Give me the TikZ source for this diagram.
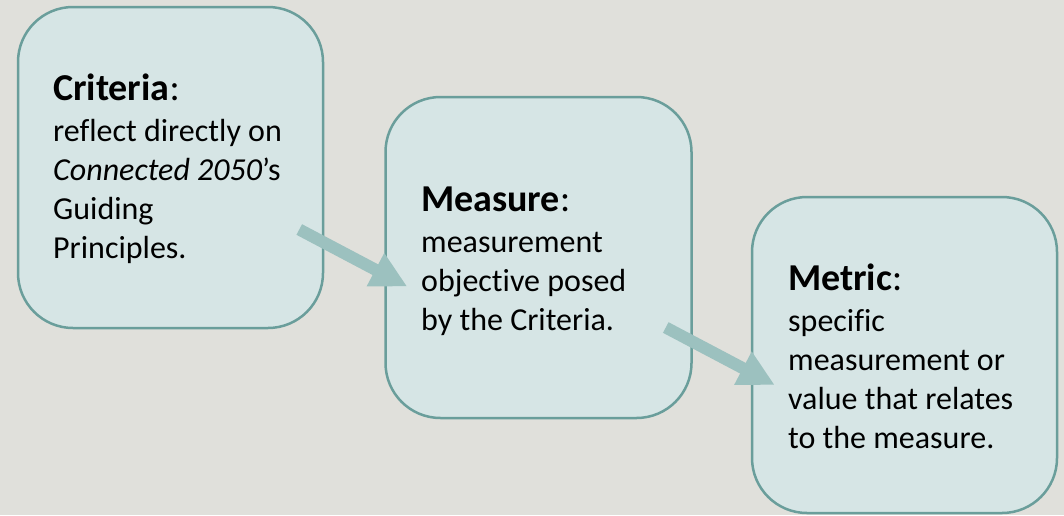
\documentclass[tikz,border=0pt]{standalone}
\usepackage{fontspec}
\setmainfont{Carlito}[Ligatures=NoCommon]
\usetikzlibrary{arrows.meta,calc}
\definecolor{bgColor}{HTML}{E0E0DB}
\definecolor{boxFill}{HTML}{D6E5E5}
\definecolor{boxLine}{HTML}{6A9E9B}
\definecolor{flowColor}{HTML}{9CC1BF}
\tikzset{
	stage box/.style={draw=boxLine, fill=boxFill, line width=2.5pt, rounded corners=55pt, inner sep=0pt},
	stage text/.style={anchor=base west, align=left, inner sep=0pt, text=black,
		font=\fontsize{32}{39}\selectfont},
	flow/.style={draw=flowColor, line width=12pt, -{Triangle[length=36pt,width=35pt]}}
}
\newcommand{\stagehead}[1]{{\fontsize{38}{39}\selectfont\textbf{#1}:}\\[2pt]}

\begin{document}
\begin{tikzpicture}[x=1pt,y=-1pt]
	\fill[bgColor] (0,0) rectangle (1064,515);
	\useasboundingbox (0,0) rectangle (1064,515);
	\node[stage box, minimum width=305pt, minimum height=321pt] at (170.5,167.5) (crit) {};
	\node[stage box, minimum width=306pt, minimum height=321pt] at (538.5,257.5) (meas) {};
	\node[stage box, minimum width=305pt, minimum height=316pt] at (904.5,355) (metr) {};
	% texts are placed by the baseline of their last line
	\node[stage text] at (53,258) (crit text) {\stagehead{Criteria}reflect directly on\\\textit{Connected 2050}’s\\Guiding\\Principles.};
	\node[stage text] at (421,330) (meas text) {\stagehead{Measure}measurement\\objective posed\\by the Criteria.};
	\node[stage text] at (788,448) (metr text) {\stagehead{Metric}specific\\measurement or\\value that relates\\to the measure.};
	% arrows run from inside one box onto the next
	\path ($(crit.east)+(-25,62)$) coordinate (crit out);
	\path ($(meas.west)+(23,29)$) coordinate (meas in);
	\path ($(meas.east)+(-27,70)$) coordinate (meas out);
	\path ($(metr.west)+(24,30)$) coordinate (metr in);
	\draw[flow] (crit out) -- (meas in);
	\draw[flow] (meas out) -- (metr in);
\end{tikzpicture}
\end{document}
